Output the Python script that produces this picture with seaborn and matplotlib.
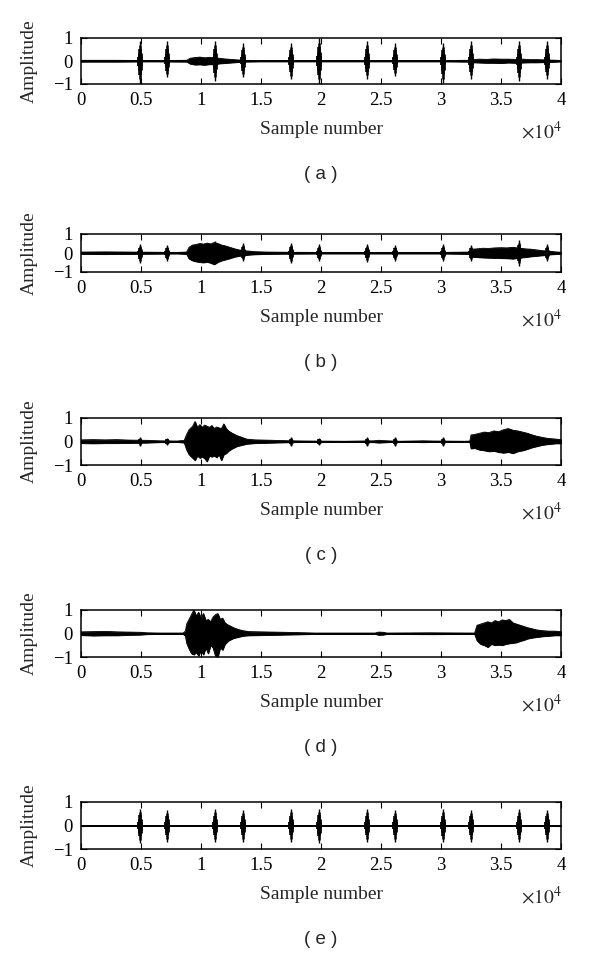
import numpy as np
import pandas as pd
import matplotlib
matplotlib.use("Agg")
import matplotlib.pyplot as plt
import seaborn as sns

# tick labels (x axis is in units of 10^4 samples)
x_ticks = [0, 5000, 10000, 15000, 20000, 25000, 30000, 35000, 40000]
x_tick_labels = ["0", "0.5", "1", "1.5", "2", "2.5", "3", "3.5", "4"]
y_ticks = [-1, 0, 1]
panel_names = ["a", "b", "c", "d", "e"]

# positions of the short bursts (sample number)
burst_pos = [4900, 7200, 11200, 13500, 17500, 19850, 23850, 26200, 30200, 32500, 36500, 38800]

# burst peak / trough per panel
burst_hi_a = [0.85, 0.85, 0.85, 0.77, 0.77, 1.0, 0.85, 0.77, 0.77, 0.85, 0.88, 0.85]
burst_lo_a = [-1.0, -0.7, -0.85, -0.7, -0.8, -1.0, -0.78, -0.67, -0.97, -0.77, -0.85, -0.77]
burst_hi_b = [0.47, 0.4, 0.63, 0.5, 0.5, 0.45, 0.48, 0.4, 0.45, 0.4, 0.67, 0.45]
burst_lo_b = [-0.52, -0.4, -0.55, -0.4, -0.52, -0.42, -0.48, -0.4, -0.42, -0.4, -0.67, -0.42]
burst_hi_c = [0.2, 0.15, 0.0, 0.0, 0.2, 0.15, 0.18, 0.18, 0.18, 0.0, 0.0, 0.1]
burst_lo_c = [-0.2, -0.15, 0.0, 0.0, -0.2, -0.15, -0.18, -0.18, -0.18, 0.0, 0.0, -0.1]
burst_hi_d = [0.0] * 12
burst_lo_d = [0.0] * 12
burst_hi_e = [0.72, 0.68, 0.7, 0.68, 0.7, 0.72, 0.7, 0.66, 0.7, 0.68, 0.7, 0.68]
burst_lo_e = [-0.75, -0.7, -0.7, -0.7, -0.7, -0.75, -0.7, -0.7, -0.72, -0.7, -0.7, -0.7]

# background (noise / speech) envelope per panel
noise_x_a = [0, 3000, 6000, 8800, 9100, 9500, 9900, 10300, 10700, 11100, 11500, 12000, 12500,
             13000, 13600, 15000, 20000, 25000, 30000, 32200, 32600, 33200, 33800, 34400, 35000,
             35600, 36200, 36800, 37400, 38000, 38600, 39200, 39700, 40000]
noise_hi_a = [0.03, 0.03, 0.02, 0.03, 0.12, 0.15, 0.17, 0.14, 0.16, 0.13, 0.12, 0.09, 0.07,
              0.05, 0.03, 0.02, 0.02, 0.02, 0.02, 0.03, 0.06, 0.08, 0.07, 0.09, 0.08,
              0.08, 0.07, 0.08, 0.06, 0.06, 0.05, 0.04, 0.03, 0.02]
noise_lo_a = [-0.03, -0.03, -0.02, -0.03, -0.12, -0.16, -0.15, -0.17, -0.14, -0.15, -0.11, -0.09, -0.07,
              -0.05, -0.03, -0.02, -0.02, -0.02, -0.02, -0.03, -0.06, -0.07, -0.08, -0.08, -0.09,
              -0.07, -0.08, -0.07, -0.06, -0.06, -0.05, -0.04, -0.03, -0.02]

noise_x_b = [0, 2000, 4000, 6000, 8000, 8800, 9000, 9300, 9600, 9900, 10200, 10500, 10800, 11100,
             11400, 11700, 12000, 12400, 12800, 13200, 13600, 14000, 14500, 15500, 17000, 20000,
             25000, 30000, 32400, 32600, 33000, 33500, 34000, 34500, 35000, 35500, 36000, 36500,
             37000, 37500, 38000, 38500, 39000, 39500, 40000]
noise_hi_b = [0.05, 0.06, 0.05, 0.04, 0.03, 0.05, 0.3, 0.42, 0.45, 0.5, 0.47, 0.52, 0.48, 0.55,
              0.5, 0.42, 0.38, 0.3, 0.22, 0.16, 0.12, 0.1, 0.07, 0.05, 0.04, 0.03,
              0.03, 0.03, 0.05, 0.2, 0.22, 0.25, 0.24, 0.27, 0.28, 0.27, 0.3, 0.26,
              0.22, 0.2, 0.16, 0.12, 0.1, 0.06, 0.04]
noise_lo_b = [-0.05, -0.06, -0.05, -0.04, -0.03, -0.05, -0.3, -0.4, -0.45, -0.48, -0.5, -0.47, -0.52, -0.6,
              -0.48, -0.4, -0.35, -0.28, -0.2, -0.15, -0.12, -0.09, -0.07, -0.05, -0.04, -0.03,
              -0.03, -0.03, -0.05, -0.2, -0.22, -0.24, -0.25, -0.26, -0.27, -0.28, -0.3, -0.25,
              -0.22, -0.18, -0.15, -0.12, -0.08, -0.06, -0.04]

noise_x_c = [0, 1000, 2000, 3000, 4000, 5500, 6500, 8000, 8600, 8800, 9000, 9300, 9500, 9700,
             9900, 10100, 10300, 10500, 10700, 10900, 11100, 11300, 11500, 11700, 11900, 12100,
             12300, 12600, 13000, 13400, 13800, 14500, 16000, 17500, 19000, 22000, 24400, 24800,
             25500, 26500, 28500, 29500, 32000, 32400, 32500, 32800, 33200, 33600, 34000, 34400,
             34800, 35200, 35600, 36000, 36400, 36800, 37200, 37600, 38000, 38400, 38800, 39200,
             39600, 40000]
noise_hi_c = [0.07, 0.08, 0.07, 0.08, 0.06, 0.05, 0.03, 0.02, 0.05, 0.3, 0.5, 0.65, 0.85, 0.6,
              0.72, 0.6, 0.7, 0.65, 0.6, 0.68, 0.55, 0.62, 0.58, 0.55, 0.75, 0.55,
              0.45, 0.35, 0.25, 0.18, 0.1, 0.07, 0.05, 0.03, 0.02, 0.01, 0.03, 0.05,
              0.03, 0.01, 0.03, 0.02, 0.01, 0.02, 0.28, 0.3, 0.35, 0.4, 0.38, 0.45,
              0.42, 0.5, 0.55, 0.48, 0.45, 0.4, 0.35, 0.28, 0.22, 0.18, 0.14, 0.12,
              0.1, 0.08]
noise_lo_c = [-0.07, -0.08, -0.07, -0.07, -0.06, -0.05, -0.03, -0.02, -0.05, -0.35, -0.55, -0.7, -0.8, -0.6,
              -0.7, -0.65, -0.72, -0.85, -0.6, -0.65, -0.6, -0.68, -0.55, -0.8, -0.55, -0.5,
              -0.4, -0.3, -0.2, -0.15, -0.1, -0.07, -0.05, -0.03, -0.02, -0.01, -0.03, -0.05,
              -0.03, -0.01, -0.03, -0.02, -0.01, -0.02, -0.3, -0.28, -0.35, -0.38, -0.42, -0.4,
              -0.45, -0.48, -0.45, -0.5, -0.42, -0.38, -0.32, -0.25, -0.2, -0.15, -0.12, -0.1,
              -0.08, -0.08]

noise_x_d = [0, 1000, 2000, 3000, 4000, 5000, 5500, 6500, 8500, 8700, 8800, 9000, 9200, 9400,
             9600, 9800, 10000, 10200, 10400, 10600, 10800, 11000, 11200, 11400, 11600, 11800,
             12000, 12300, 12700, 13100, 13500, 14000, 15000, 16000, 17000, 18000, 19500, 24500,
             24800, 25200, 25500, 29000, 32800, 33000, 33300, 33600, 33900, 34200, 34500, 34800,
             35100, 35400, 35700, 36000, 36300, 36600, 36900, 37200, 37600, 38000, 38500, 39000,
             39500, 40000]
noise_hi_d = [0.07, 0.08, 0.09, 0.07, 0.06, 0.05, 0.03, 0.02, 0.02, 0.1, 0.4, 0.6, 0.8, 1.0,
              0.75, 0.9, 0.65, 0.85, 0.55, 0.6, 0.5, 0.7, 0.8, 0.85, 0.6, 0.65,
              0.45, 0.35, 0.25, 0.17, 0.12, 0.08, 0.07, 0.06, 0.05, 0.04, 0.02, 0.02,
              0.06, 0.05, 0.02, 0.03, 0.02, 0.35, 0.4, 0.45, 0.5, 0.45, 0.55, 0.5,
              0.58, 0.55, 0.6, 0.45, 0.4, 0.35, 0.3, 0.25, 0.2, 0.15, 0.12, 0.1,
              0.1, 0.08]
noise_lo_d = [-0.07, -0.09, -0.08, -0.08, -0.06, -0.05, -0.03, -0.02, -0.02, -0.1, -0.4, -0.65, -0.85, -0.9,
              -0.8, -0.95, -0.7, -0.9, -0.6, -0.85, -0.5, -0.6, -0.95, -1.0, -0.6, -0.7,
              -0.45, -0.3, -0.2, -0.15, -0.1, -0.08, -0.07, -0.06, -0.05, -0.04, -0.02, -0.02,
              -0.06, -0.05, -0.02, -0.03, -0.02, -0.3, -0.45, -0.5, -0.58, -0.45, -0.5, -0.48,
              -0.5, -0.45, -0.42, -0.4, -0.38, -0.32, -0.28, -0.22, -0.18, -0.15, -0.12, -0.1,
              -0.08, -0.08]

noise_x_e = [0, 40000]
noise_hi_e = [0.005, 0.005]
noise_lo_e = [-0.005, -0.005]

panels = {
    "a": (noise_x_a, noise_hi_a, noise_lo_a, burst_hi_a, burst_lo_a),
    "b": (noise_x_b, noise_hi_b, noise_lo_b, burst_hi_b, burst_lo_b),
    "c": (noise_x_c, noise_hi_c, noise_lo_c, burst_hi_c, burst_lo_c),
    "d": (noise_x_d, noise_hi_d, noise_lo_d, burst_hi_d, burst_lo_d),
    "e": (noise_x_e, noise_hi_e, noise_lo_e, burst_hi_e, burst_lo_e),
}

# axes placement in pixels: (top, bottom)
axes_px = {"a": (38, 84), "b": (234, 272), "c": (418, 465), "d": (610, 657), "e": (802, 849)}

sns.set_style("ticks")
plt.rcParams["font.family"] = ["Liberation Serif", "DejaVu Serif"]
plt.rcParams["mathtext.fontset"] = "stix"

W, H = 600, 957
fig = plt.figure(figsize=(W / 100, H / 100), dpi=100)

for name in panel_names:
    nx, nhi, nlo, bhi, blo = panels[name]
    top, bot = axes_px[name]
    ax = fig.add_axes([81 / W, 1 - bot / H, 480 / W, (bot - top) / H])

    # envelope of the signal
    ax.fill_between(nx, nlo, nhi, color="black", linewidth=0.6, edgecolor="black")
    env = pd.DataFrame({"x": nx + nx, "y": nhi + nlo, "side": ["hi"] * len(nx) + ["lo"] * len(nx)})
    sns.lineplot(data=env, x="x", y="y", units="side", estimator=None,
                 color="black", linewidth=0.6, ax=ax)
    sns.lineplot(x=[0, 40000], y=[0, 0], color="black", linewidth=1.2, ax=ax)

    # short bursts, drawn as a spindle
    for p, h, l in zip(burst_pos, bhi, blo):
        if h == 0 and l == 0:
            continue
        for frac, lw in [(1.0, 1.0), (0.8, 1.8), (0.6, 2.6), (0.4, 3.4), (0.2, 4.2)]:
            ax.vlines(p, l * frac, h * frac, color="black", linewidth=lw)

    ax.set_xlim(0, 40000)
    ax.set_ylim(-1, 1)
    ax.set_xticks(x_ticks)
    ax.set_xticklabels(x_tick_labels)
    ax.set_yticks(y_ticks)
    ax.tick_params(direction="in", length=4, width=0.8, top=True, right=True,
                   labelsize=13.5, pad=6, colors="black")
    for s in ax.spines.values():
        s.set_linewidth(1.1)
        s.set_color("black")
    ax.set_xlabel("")
    ax.set_ylabel("")

    ax.annotate("Amplitude", xy=(0, 0.5), xycoords="axes fraction",
                xytext=(-37, 0), textcoords="offset points",
                rotation=90, ha="center", va="center", fontsize=14)
    ax.annotate("Sample number", xy=(0.5, 0), xycoords="axes fraction",
                xytext=(0, -33), textcoords="offset points",
                ha="center", va="center", fontsize=14)
    ax.annotate(r"$\times 10^4$", xy=(1, 0), xycoords="axes fraction",
                xytext=(-14, -34), textcoords="offset points",
                ha="center", va="center", fontsize=14)
    ax.annotate("( %s )" % name, xy=(0.5, 0), xycoords="axes fraction",
                xytext=(0, -65), textcoords="offset points",
                ha="center", va="center", fontsize=13.5, family="Liberation Sans")

fig.savefig("out.png", dpi=100, facecolor="white")
